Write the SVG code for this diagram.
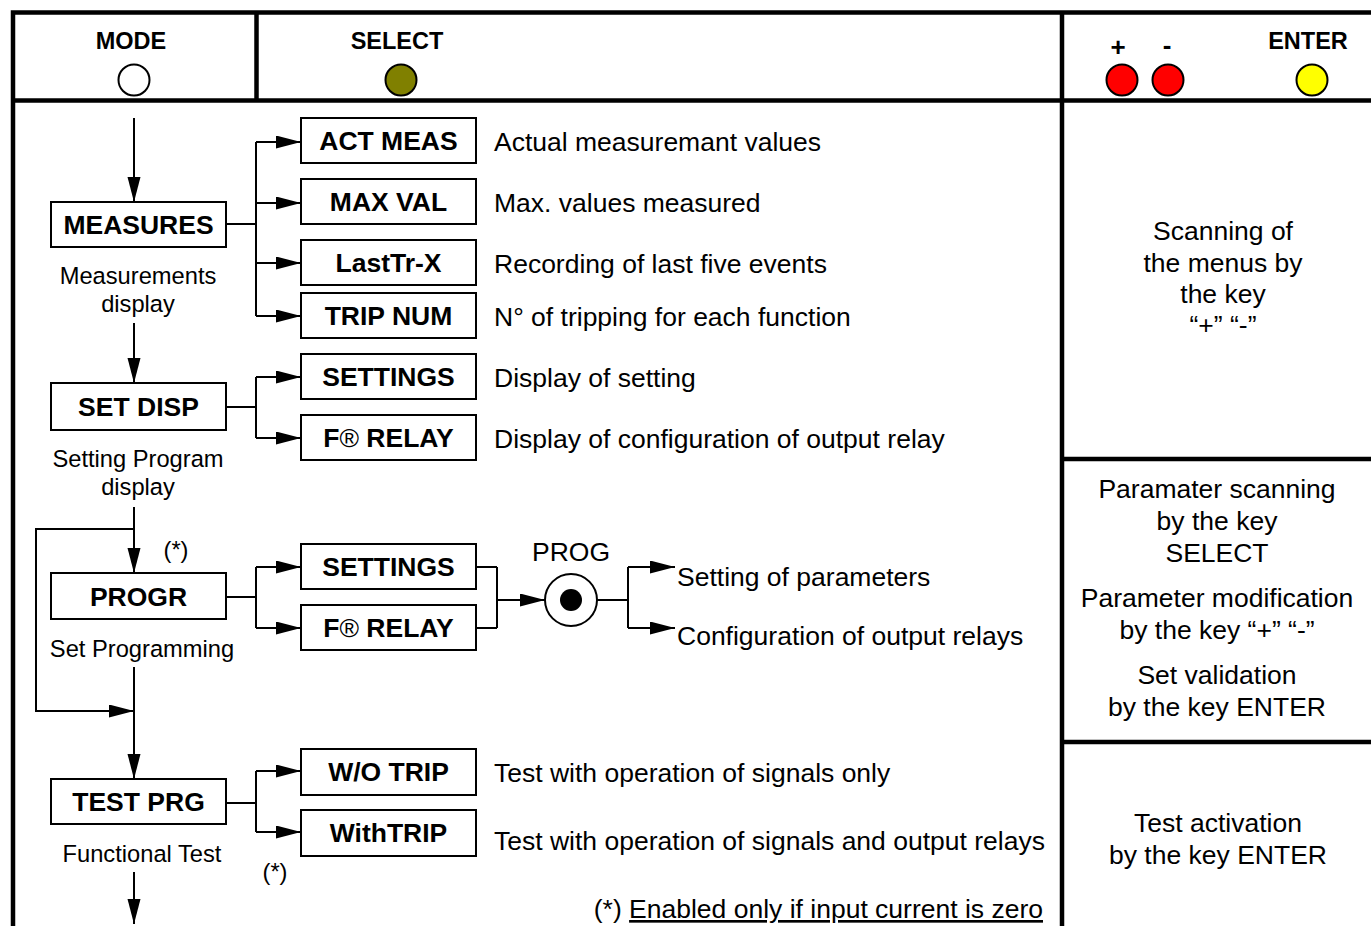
<svg xmlns="http://www.w3.org/2000/svg" width="1371" height="926" viewBox="0 0 1371 926">
<style>
.frame{stroke:#000;stroke-width:4.5;fill:none}
.box{fill:#fff;stroke:#000;stroke-width:2}
.lbl{font-family:"Liberation Sans",Arial,sans-serif;font-weight:bold;font-size:26.5px;text-anchor:middle;fill:#000}
.hdr{font-family:"Liberation Sans",Arial,sans-serif;font-weight:bold;font-size:23.5px;text-anchor:middle;fill:#000}
.pm{font-family:"Liberation Sans",Arial,sans-serif;font-weight:bold;font-size:26px;text-anchor:middle;fill:#000}
.txt{font-family:"Liberation Sans",Arial,sans-serif;font-size:26.5px;fill:#000}
.sm{font-family:"Liberation Sans",Arial,sans-serif;font-size:23.7px;fill:#000;text-anchor:middle}
.mid{text-anchor:middle}
.con{stroke:#000;stroke-width:2;fill:none}
.arr{stroke:#000;stroke-width:2;fill:none;marker-end:url(#ah)}
.key{stroke:#000;stroke-width:2}
.reg{font-weight:normal}
</style>
<defs>
<marker id="ah" markerUnits="userSpaceOnUse" markerWidth="26" markerHeight="14" refX="25" refY="6.5" orient="auto">
<path d="M0,0 L25,6.5 L0,13 z" fill="#000"/>
</marker>
</defs>
<rect width="1371" height="926" fill="#fff"/>
<g id="frame">
<path class="frame" d="M13,926 V12.5 H1371"/>
<path class="frame" d="M13,100.5 H1371"/>
<path class="frame" d="M256.5,12.5 V100.5"/>
<path class="frame" d="M1062,12.5 V926"/>
<path class="frame" d="M1062,459 H1371"/>
<path class="frame" d="M1062,742 H1371"/>
</g>
<g id="key-mode">
<text class="hdr" x="131" y="49">MODE</text>
<circle class="key" cx="134" cy="80" r="15.5" fill="#fff"/>
</g>
<g id="key-select">
<text class="hdr" x="397" y="49">SELECT</text>
<circle class="key" cx="401" cy="80" r="15.5" fill="#808000"/>
</g>
<g id="key-plus">
<text class="pm" x="1118" y="56">+</text>
<circle class="key" cx="1122" cy="80" r="15.5" fill="#ff0000"/>
</g>
<g id="key-minus">
<text class="pm" x="1167" y="54">-</text>
<circle class="key" cx="1168" cy="80" r="15.5" fill="#ff0000"/>
</g>
<g id="key-enter">
<text class="hdr" x="1308" y="49">ENTER</text>
<circle class="key" cx="1312" cy="80" r="15.5" fill="#ffff00"/>
</g>
<g id="connectors">
<path class="arr" d="M134,118 V202"/>
<path class="con" d="M226,224 H256 M256,142 V316"/>
<path class="arr" d="M256,142 H301"/>
<path class="arr" d="M256,203 H301"/>
<path class="arr" d="M256,263 H301"/>
<path class="arr" d="M256,316 H301"/>
<path class="arr" d="M134,323 V383"/>
<path class="con" d="M226,407 H256 M256,377 V438"/>
<path class="arr" d="M256,377 H301"/>
<path class="arr" d="M256,438 H301"/>
<path class="arr" d="M134,507 V573"/>
<path class="arr" d="M134,529 H36 V711 H134"/>
<path class="con" d="M226,597 H256 M256,567 V628"/>
<path class="arr" d="M256,567 H301"/>
<path class="arr" d="M256,628 H301"/>
<path class="con" d="M476,567 H497 M476,628 H497 M497,567 V628"/>
<path class="arr" d="M497,600 H545"/>
<path class="con" d="M597,600 H628 M628,567 V628"/>
<path class="arr" d="M628,567 H675"/>
<path class="arr" d="M628,628 H675"/>
<path class="arr" d="M134,667 V779"/>
<path class="con" d="M226,803 H256 M256,771 V832"/>
<path class="arr" d="M256,771 H301"/>
<path class="arr" d="M256,832 H301"/>
<path class="arr" d="M134,872 V924"/>
</g>
<g id="measures">
<rect class="box" x="51" y="202" width="175" height="45"/>
<text class="lbl" x="138.5" y="234">MEASURES</text>
<text class="sm" x="138" y="284">Measurements</text>
<text class="sm" x="138" y="312">display</text>
</g>
<g id="act-meas">
<rect class="box" x="301" y="118" width="175" height="45"/>
<text class="lbl" x="388.5" y="150">ACT MEAS</text>
<text class="txt" x="494" y="151">Actual measuremant values</text>
</g>
<g id="max-val">
<rect class="box" x="301" y="179" width="175" height="45"/>
<text class="lbl" x="388.5" y="211">MAX VAL</text>
<text class="txt" x="494" y="212">Max. values measured</text>
</g>
<g id="lasttr">
<rect class="box" x="301" y="240" width="175" height="45"/>
<text class="lbl" x="388.5" y="272">LastTr-X</text>
<text class="txt" x="494" y="273">Recording of last five events</text>
</g>
<g id="trip-num">
<rect class="box" x="301" y="293" width="175" height="45"/>
<text class="lbl" x="388.5" y="325">TRIP NUM</text>
<text class="txt" x="494" y="326">N° of tripping for each function</text>
</g>
<g id="set-disp">
<rect class="box" x="51" y="383" width="175" height="47"/>
<text class="lbl" x="138.5" y="416">SET DISP</text>
<text class="sm" x="138" y="467">Setting Program</text>
<text class="sm" x="138" y="495">display</text>
</g>
<g id="settings-1">
<rect class="box" x="301" y="354" width="175" height="45"/>
<text class="lbl" x="388.5" y="386">SETTINGS</text>
<text class="txt" x="494" y="387">Display of setting</text>
</g>
<g id="relay-1">
<rect class="box" x="301" y="415" width="175" height="45"/>
<text class="lbl" x="388.5" y="447">F<tspan class="reg">®</tspan> RELAY</text>
<text class="txt" x="494" y="448">Display of configuration of output relay</text>
</g>
<g id="progr">
<rect class="box" x="51" y="573" width="175" height="46"/>
<text class="sm" x="176" y="558">(*)</text>
<text class="lbl" x="138.5" y="606">PROGR</text>
<text class="sm" x="142" y="657">Set Programming</text>
</g>
<g id="settings-2">
<rect class="box" x="301" y="544" width="175" height="45"/>
<text class="lbl" x="388.5" y="576">SETTINGS</text>
</g>
<g id="relay-2">
<rect class="box" x="301" y="605" width="175" height="45"/>
<text class="lbl" x="388.5" y="637">F<tspan class="reg">®</tspan> RELAY</text>
</g>
<g id="prog">
<text class="txt mid" x="571" y="561">PROG</text>
<circle cx="571" cy="600" r="26" fill="#fff" stroke="#000" stroke-width="2"/>
<circle cx="571" cy="600" r="11" fill="#000"/>
<text class="txt" x="677" y="586">Setting of parameters</text>
<text class="txt" x="677" y="645">Configuration of output relays</text>
</g>
<g id="test-prg">
<rect class="box" x="51" y="779" width="175" height="45"/>
<text class="lbl" x="138.5" y="811">TEST PRG</text>
<text class="sm" x="142" y="862">Functional Test</text>
<text class="sm" x="275" y="880">(*)</text>
</g>
<g id="wo-trip">
<rect class="box" x="301" y="749" width="175" height="46"/>
<text class="lbl" x="388.5" y="781">W/O TRIP</text>
<text class="txt" x="494" y="782">Test with operation of signals only</text>
</g>
<g id="with-trip">
<rect class="box" x="301" y="810" width="175" height="46"/>
<text class="lbl" x="388.5" y="842">WithTRIP</text>
<text class="txt" x="494" y="850">Test with operation of signals and output relays</text>
</g>
<g id="footnote">
<text class="txt" x="1043" y="918" text-anchor="end">(*) <tspan text-decoration="underline">Enabled only if input current is zero</tspan></text>
</g>
<g id="panel-scan">
<text class="txt mid" x="1223" y="240">Scanning of</text>
<text class="txt mid" x="1223" y="272">the menus by</text>
<text class="txt mid" x="1223" y="303">the key</text>
<text class="txt mid" x="1223" y="334">“+” “-”</text>
</g>
<g id="panel-param">
<text class="txt mid" x="1217" y="498">Paramater scanning</text>
<text class="txt mid" x="1217" y="530">by the key</text>
<text class="txt mid" x="1217" y="562">SELECT</text>
<text class="txt mid" x="1217" y="607">Parameter modification</text>
<text class="txt mid" x="1217" y="639">by the key “+” “-”</text>
<text class="txt mid" x="1217" y="684">Set validation</text>
<text class="txt mid" x="1217" y="716">by the key ENTER</text>
</g>
<g id="panel-test">
<text class="txt mid" x="1218" y="832">Test activation</text>
<text class="txt mid" x="1218" y="864">by the key ENTER</text>
</g>
</svg>
